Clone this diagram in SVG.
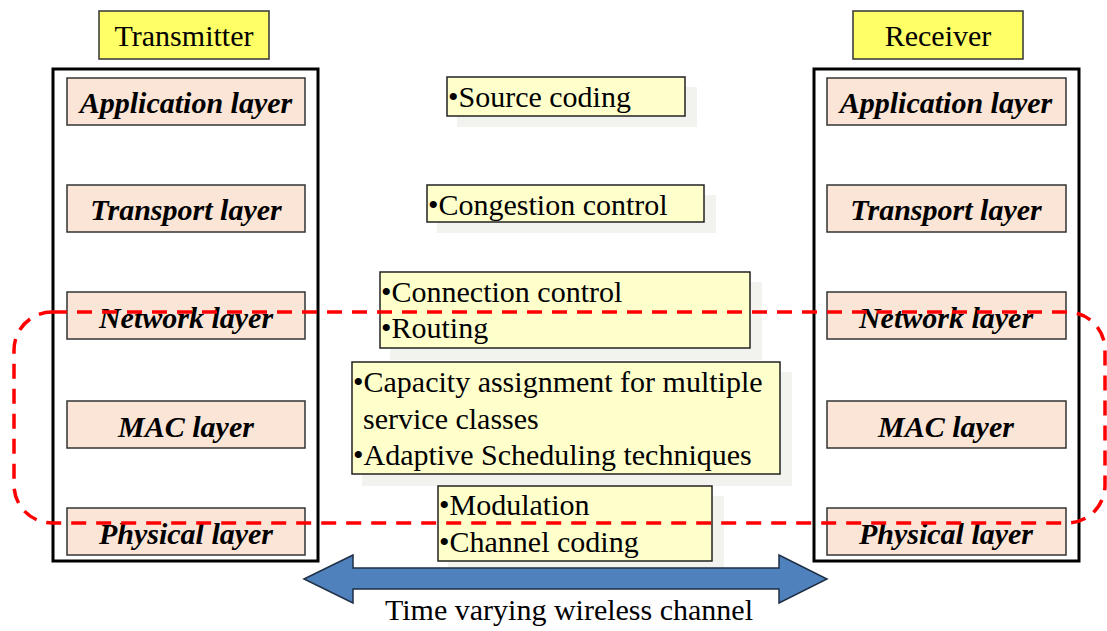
<svg xmlns="http://www.w3.org/2000/svg" width="1107" height="631" viewBox="0 0 1107 631">
  <style>
    .title { fill: #FFFF66; stroke: #333; stroke-width: 1.5; }
    .title-text { font-family: "Liberation Serif", "Times New Roman", serif; font-size: 30px; fill: #000; text-anchor: middle; }
    .stack { fill: #fff; stroke: #000; stroke-width: 3; }
    .layer { fill: #FBE5D6; stroke: #333; stroke-width: 1.5; }
    .layer-text { font-family: "Liberation Serif", "Times New Roman", serif; font-size: 30px; font-weight: bold; font-style: italic; fill: #000; text-anchor: middle; }
    .note { fill: #FFFFCC; stroke: #222; stroke-width: 1.5; }
    .shadow { fill: #F2F2EE; }
    .note-text { font-family: "Liberation Serif", "Times New Roman", serif; font-size: 30px; fill: #000; }
    .region { fill: none; stroke: #FF0000; stroke-width: 3.5; stroke-dasharray: 15 10; }
    .channel { fill: #4F81BD; stroke: #1F2F45; stroke-width: 1.5; }
    .caption { font-family: "Liberation Serif", "Times New Roman", serif; font-size: 30px; fill: #000; text-anchor: middle; }
  </style>

  <!-- Transmitter stack -->
  <g id="transmitter">
    <rect class="title" x="99" y="11" width="170" height="48"/>
    <text class="title-text" x="184" y="46">Transmitter</text>
    <rect class="stack" x="53" y="69" width="265" height="492"/>
  </g>
  <g id="tx-application"><rect class="layer" x="67" y="78" width="238" height="47"/><text class="layer-text" x="186" y="113">Application layer</text></g>
  <g id="tx-transport"><rect class="layer" x="67" y="185" width="238" height="47"/><text class="layer-text" x="186" y="220">Transport layer</text></g>
  <g id="tx-network"><rect class="layer" x="67" y="292" width="238" height="47"/><text class="layer-text" x="186" y="328">Network layer</text></g>
  <g id="tx-mac"><rect class="layer" x="67" y="401" width="238" height="47"/><text class="layer-text" x="186" y="437">MAC layer</text></g>
  <g id="tx-physical"><rect class="layer" x="67" y="508" width="238" height="47"/><text class="layer-text" x="186" y="544">Physical layer</text></g>

  <!-- Receiver stack -->
  <g id="receiver">
    <rect class="title" x="853" y="11" width="170" height="48"/>
    <text class="title-text" x="938" y="46">Receiver</text>
    <rect class="stack" x="814" y="69" width="265" height="492"/>
  </g>
  <g id="rx-application"><rect class="layer" x="827" y="78" width="239" height="47"/><text class="layer-text" x="946" y="113">Application layer</text></g>
  <g id="rx-transport"><rect class="layer" x="827" y="185" width="239" height="47"/><text class="layer-text" x="946" y="220">Transport layer</text></g>
  <g id="rx-network"><rect class="layer" x="827" y="292" width="239" height="47"/><text class="layer-text" x="946" y="328">Network layer</text></g>
  <g id="rx-mac"><rect class="layer" x="827" y="401" width="239" height="47"/><text class="layer-text" x="946" y="437">MAC layer</text></g>
  <g id="rx-physical"><rect class="layer" x="827" y="508" width="239" height="47"/><text class="layer-text" x="946" y="544">Physical layer</text></g>

  <!-- Per-layer functions -->
  <g id="source-coding">
    <rect class="shadow" x="457" y="87" width="240" height="40"/>
    <rect class="note" x="447" y="77" width="238" height="39"/>
    <text class="note-text" x="448" y="107">•Source coding</text>
  </g>
  <g id="congestion-control">
    <rect class="shadow" x="437" y="195" width="279" height="38"/>
    <rect class="note" x="427" y="185" width="277" height="37"/>
    <text class="note-text" x="428" y="215">•Congestion control</text>
  </g>
  <g id="network-functions">
    <rect class="shadow" x="390" y="282" width="372" height="78"/>
    <rect class="note" x="380" y="272" width="370" height="76"/>
    <text class="note-text" x="381" y="302">•Connection control</text>
    <text class="note-text" x="381" y="338">•Routing</text>
  </g>
  <g id="mac-functions">
    <rect class="shadow" x="362" y="372" width="430" height="114"/>
    <rect class="note" x="352" y="362" width="428" height="112"/>
    <text class="note-text" x="353" y="392">•Capacity assignment for multiple</text>
    <text class="note-text" x="363" y="429">service classes</text>
    <text class="note-text" x="353" y="465">•Adaptive Scheduling techniques</text>
  </g>
  <g id="physical-functions">
    <rect class="shadow" x="448" y="496" width="276" height="72"/>
    <rect class="note" x="438" y="486" width="274" height="75"/>
    <text class="note-text" x="439" y="515">•Modulation</text>
    <text class="note-text" x="439" y="552">•Channel coding</text>
  </g>

  <!-- Connectors: lower-layer grouping and the wireless channel -->
  <g id="connectors">
    <rect class="region" x="14" y="312" width="1091" height="211" rx="38" ry="38"/>
    <path class="channel" d="M304,579 L353,555 L353,568 L779,568 L779,555 L827,579 L779,603 L779,589 L353,589 L353,603 Z"/>
    <text class="caption" x="569" y="620">Time varying wireless channel</text>
  </g>
</svg>
